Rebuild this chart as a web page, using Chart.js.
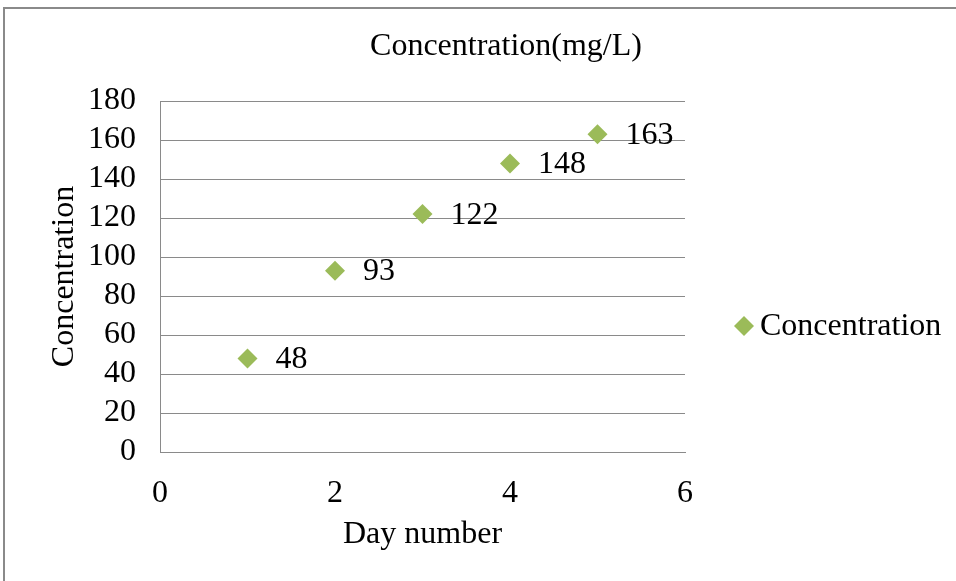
<!DOCTYPE html>
<html>
<head>
<meta charset="utf-8">
<script src="https://cdn.jsdelivr.net/npm/chart.js@4/dist/chart.umd.min.js"></script>
<style>
  html, body { margin: 0; padding: 0; background: #fff; overflow: hidden; }
  #wrap { position: relative; width: 956px; height: 581px; }
  #frame { position: absolute; left: 3px; top: 7px; width: 1200px; height: 800px;
           border-left: 2px solid #8a8a8a; border-top: 2px solid #8a8a8a;
           box-sizing: border-box; pointer-events: none; }
  canvas { position: absolute; left: 0; top: 0; }
</style>
</head>
<body>
<div id="wrap">
  <canvas id="chart" width="956" height="581"></canvas>
  <div id="frame"></div>
</div>
<script>
// Chart text
const chartTitle = 'Concentration(mg/L)';
const seriesName = 'Concentration';
const xAxisTitle = 'Day number';
const yAxisTitle = 'Concentration';

// Series values
const dayNumbers = [1, 2, 3, 4, 5];
const concentrations = [48, 93, 122, 148, 163];

// Tick labels
const xTicks = [0, 2, 4, 6];
const yTicks = [0, 20, 40, 60, 80, 100, 120, 140, 160, 180];

const SERIF = '"Liberation Serif", "Times New Roman", Times, serif';
const FONT_SIZE = 32;
const MARKER = '#9BBB59';
const GRID = '#8a8a8a';

function diamond(ctx, x, y, r) {
  ctx.beginPath();
  ctx.moveTo(x - r, y);
  ctx.lineTo(x, y - r);
  ctx.lineTo(x + r, y);
  ctx.lineTo(x, y + r);
  ctx.closePath();
  ctx.fill();
}

// Value labels to the right of each marker
const valueLabels = {
  id: 'valueLabels',
  afterDatasetsDraw(chart) {
    const ctx = chart.ctx;
    const ds = chart.data.datasets[0];
    const meta = chart.getDatasetMeta(0);
    ctx.save();
    ctx.font = FONT_SIZE + 'px ' + SERIF;
    ctx.fillStyle = '#000';
    ctx.textAlign = 'left';
    ctx.textBaseline = 'middle';
    meta.data.forEach((pt, i) => {
      ctx.fillText(String(ds.data[i].y), pt.x + 28, pt.y + 1);
    });
    ctx.restore();
  }
};

// Chart title, centred over the whole frame
const frameTitle = {
  id: 'frameTitle',
  afterDraw(chart) {
    const ctx = chart.ctx;
    ctx.save();
    ctx.font = FONT_SIZE + 'px ' + SERIF;
    ctx.fillStyle = '#000';
    ctx.textAlign = 'center';
    ctx.textBaseline = 'middle';
    ctx.fillText(chartTitle, 506, 47);
    ctx.restore();
  }
};

// Legend entry on the right of the plot
const sideLegend = {
  id: 'sideLegend',
  afterDraw(chart) {
    const ctx = chart.ctx;
    const ds = chart.data.datasets[0];
    const mx = chart.chartArea.right + 59;
    const my = 326;
    ctx.save();
    ctx.fillStyle = ds.backgroundColor;
    diamond(ctx, mx, my, 10);
    ctx.font = FONT_SIZE + 'px ' + SERIF;
    ctx.fillStyle = '#000';
    ctx.textAlign = 'left';
    ctx.textBaseline = 'middle';
    ctx.fillText(ds.label, mx + 16, my + 1);
    ctx.restore();
  }
};

new Chart(document.getElementById('chart'), {
  type: 'scatter',
  data: {
    datasets: [{
      label: seriesName,
      data: dayNumbers.map((d, i) => ({ x: d, y: concentrations[i] })),
      pointStyle: 'rectRot',
      pointRadius: 10,
      pointHoverRadius: 10,
      backgroundColor: MARKER,
      borderColor: MARKER,
      borderWidth: 0,
      showLine: false
    }]
  },
  options: {
    responsive: false,
    animation: false,
    events: [],
    layout: { padding: { left: 8, top: 101, right: 271, bottom: 0 } },
    plugins: {
      legend: { display: false },
      title: { display: false },
      tooltip: { enabled: false }
    },
    scales: {
      x: {
        type: 'linear',
        min: xTicks[0],
        max: xTicks[xTicks.length - 1],
        afterBuildTicks: (s) => { s.ticks = xTicks.map(v => ({ value: v })); },
        afterFit: (s) => { s.height = 129; },
        grid: { display: false, drawTicks: false },
        border: { display: true, color: GRID, width: 1 },
        ticks: { autoSkip: false, maxRotation: 0, padding: 22, color: '#000',
                 font: { family: SERIF, size: FONT_SIZE } },
        title: {
          display: true, text: xAxisTitle, color: '#000',
          font: { family: SERIF, size: FONT_SIZE },
          padding: { top: 0, bottom: 27 }
        }
      },
      y: {
        type: 'linear',
        min: yTicks[0],
        max: yTicks[yTicks.length - 1],
        afterBuildTicks: (s) => { s.ticks = yTicks.map(v => ({ value: v })); },
        afterFit: (s) => { s.width = 152; },
        grid: { display: true, drawTicks: false, color: GRID, lineWidth: 1 },
        border: { display: true, color: GRID, width: 1 },
        ticks: { autoSkip: false, padding: 24, color: '#000',
                 font: { family: SERIF, size: FONT_SIZE } },
        title: {
          display: true, text: yAxisTitle, color: '#000',
          font: { family: SERIF, size: FONT_SIZE },
          padding: { top: 37, bottom: 0 }
        }
      }
    }
  },
  plugins: [valueLabels, frameTitle, sideLegend]
});
</script>
</body>
</html>
